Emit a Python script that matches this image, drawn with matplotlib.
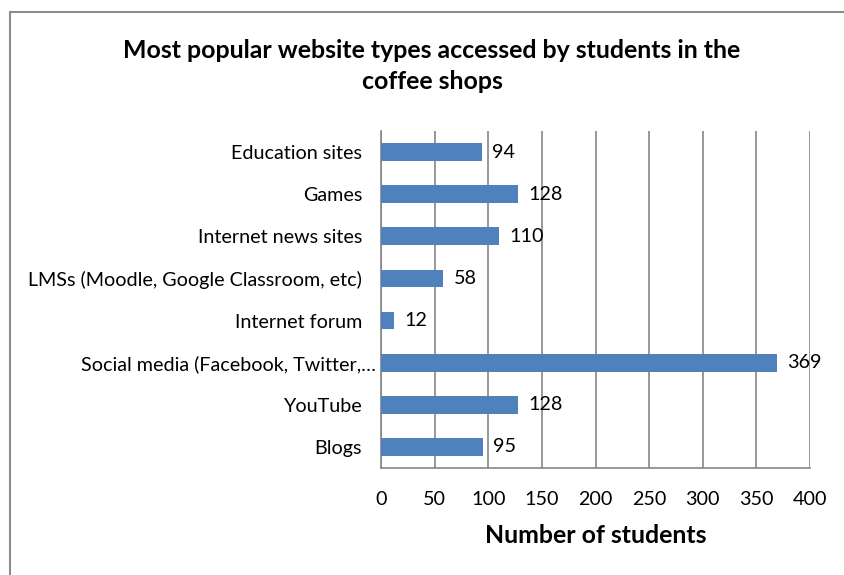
import matplotlib.pyplot as plt
from matplotlib.patches import Rectangle
from matplotlib.transforms import ScaledTranslation

categories = ["Blogs", "YouTube", "Social media (Facebook, Twitter,\u2026",
              "Internet forum", "LMSs (Moodle, Google Classroom, etc)",
              "Internet news sites", "Games", "Education sites"]
students = [95, 128, 369, 12, 58, 110, 128, 94]
xticks = [0, 50, 100, 150, 200, 250, 300, 350, 400]

plt.rcParams['font.family'] = ['Lato', 'DejaVu Sans']

fig = plt.figure(figsize=(8.44, 5.75), dpi=100)
ax = fig.add_axes([381/844, 1-468/575, 429/844, 337/575])

# chart frame (cut off at right and bottom in the original)
fig.patches.append(Rectangle((10/844, -0.1), 1.2, 1 - 12/575 + 0.1,
                             transform=fig.transFigure, fill=False,
                             edgecolor='#8c8c8c', linewidth=1.5))

ypos = range(len(categories))
ax.barh(ypos, students, height=0.42, color='#4F81BD', zorder=3)
for y, v in zip(ypos, students):
    ax.text(v + 9.5, y, str(v), va='center', ha='left', fontsize=14.2, zorder=4)

ax.set_xlim(0, 400)
ax.set_ylim(-0.5, len(categories) - 0.5)
ax.set_xticks(xticks)
ax.set_yticks(list(ypos))
ax.set_yticklabels(categories)
ax.tick_params(axis='both', length=0, labelsize=14.2)
ax.tick_params(axis='x', pad=16.5)
ax.tick_params(axis='y', pad=13.5)
ax.grid(axis='x', color='#868686', linewidth=1.2, zorder=0)

# the truncated label sticks out closer to the axis, as in Excel
lab = ax.get_yticklabels()[2]
lab.set_transform(lab.get_transform() + ScaledTranslation(14/100, 0, fig.dpi_scale_trans))

for s in ['top', 'right']:
    ax.spines[s].set_visible(False)
for s in ['left', 'bottom']:
    ax.spines[s].set_color('#868686')
    ax.spines[s].set_linewidth(1.2)

ax.set_xlabel("Number of students", fontsize=17.9, fontweight='bold', labelpad=11.5)
fig.text(432/844, 1-66/575,
         "Most popular website types accessed by students in the\ncoffee shops",
         ha='center', va='center', fontsize=17.9, fontweight='bold',
         linespacing=1.45)

fig.savefig('out.png', dpi=100)
